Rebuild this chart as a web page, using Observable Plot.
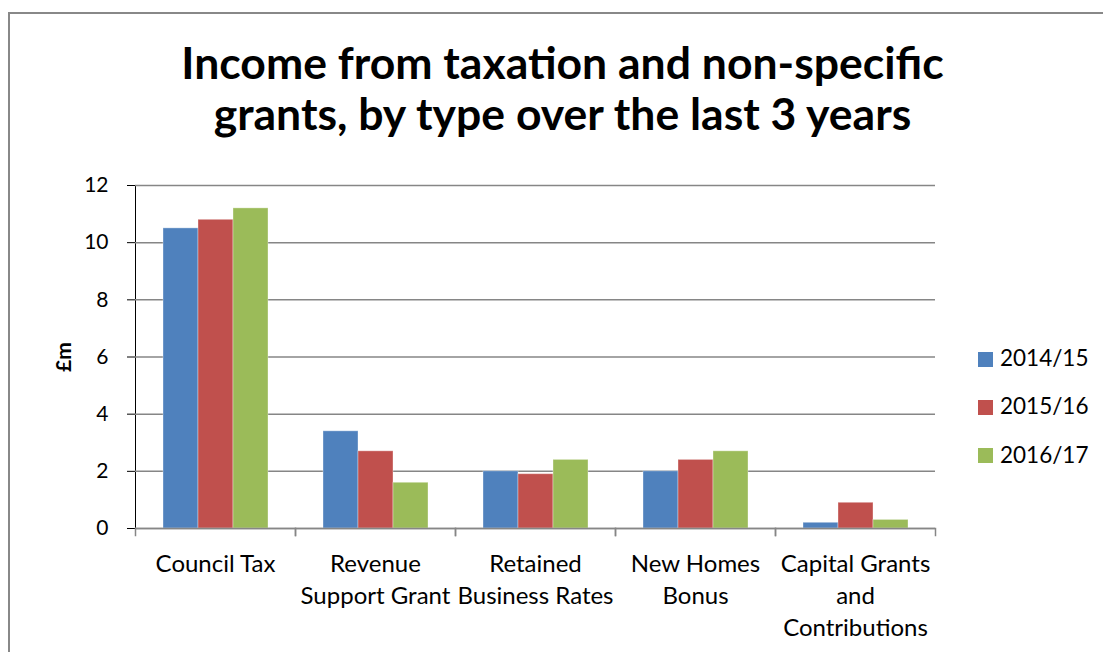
<!DOCTYPE html>
<html>
<head>
<meta charset="utf-8">
<script src="https://cdn.jsdelivr.net/npm/d3@7"></script>
<script src="https://cdn.jsdelivr.net/npm/@observablehq/plot@0.6"></script>
<style>
  html, body { margin: 0; padding: 0; background: #fff; }
  #wrap { position: relative; width: 1103px; height: 652px; overflow: hidden; font-family: Lato, "Open Sans", sans-serif; color: #000; }
  #border { position: absolute; left: 8px; top: 12px; width: 1200px; height: 800px; border-left: 2px solid #888; border-top: 2px solid #888; }
  #title { position: absolute; left: 0; width: 1125px; top: 36px; text-align: center; font-weight: 700; font-size: 44.5px; line-height: 51px; white-space: nowrap; }
  #ylabel { position: absolute; left: 62px; top: 357px; transform: translate(-50%, -50%) rotate(-90deg); font-weight: 700; font-size: 21px; }
  #chart { position: absolute; left: 0; top: 160px; }
  #legend { position: absolute; left: 978px; top: 344px; font-size: 22.5px; }
  .li { height: 48.3px; line-height: 27px; display: flex; align-items: flex-start; }
  .sw { width: 14.5px; height: 15px; margin-top: 7.5px; margin-right: 7.5px; }
</style>
</head>
<body>
<div id="wrap">
  <div id="border"></div>
  <div id="title">Income from taxation and non-specific<br>grants, by type over the last 3 years</div>
  <div id="ylabel">£m</div>
  <div id="chart"></div>
  <div id="legend"></div>
</div>
<script>
const categories = ["Council Tax", "Revenue Support Grant", "Retained Business Rates", "New Homes Bonus", "Capital Grants and Contributions"];
const categoryLabels = ["Council Tax", "Revenue\nSupport Grant", "Retained\nBusiness Rates", "New Homes\nBonus", "Capital Grants\nand\nContributions"];
const years = ["2014/15", "2015/16", "2016/17"];
const values2014 = [10.5, 3.4, 2.0, 2.0, 0.2];
const values2015 = [10.8, 2.7, 1.9, 2.4, 0.9];
const values2016 = [11.2, 1.6, 2.4, 2.7, 0.3];
const colors = ["#4F81BD", "#C0504D", "#9BBB59"];
const yTicks = [0, 2, 4, 6, 8, 10, 12];

const seriesValues = [values2014, values2015, values2016];
const table = [];
categories.forEach((c, i) => years.forEach((y, j) => table.push({category: c, year: y, value: seriesValues[j][i]})));

const gray = "#868686";
const plotHeight = 343;

const chart = Plot.plot({
  width: 1103,
  height: 492,
  marginTop: 25,
  marginBottom: 124,
  marginLeft: 134,
  marginRight: 167,
  style: {fontFamily: "Lato, 'Open Sans', sans-serif", fontSize: "21px", color: "#000", background: "transparent", overflow: "visible"},
  fx: {domain: categories, padding: 0, label: null},
  x: {domain: years, paddingInner: 0, paddingOuter: 0.75, axis: null},
  y: {domain: [0, 12], ticks: yTicks, tickSize: 8, tickPadding: 19, label: null, line: true},
  color: {domain: years, range: colors},
  marks: [
    Plot.gridY(yTicks, {stroke: gray, strokeOpacity: 1, strokeWidth: 1.5}),
    Plot.barY(table, {fx: "category", x: "year", y: "value", fill: "year", stroke: "#fff", strokeOpacity: 0.35, strokeWidth: 1}),
    Plot.ruleY([0], {stroke: gray, strokeWidth: 1.5}),
    Plot.frame({anchor: "left", insetTop: plotHeight, insetBottom: -7, stroke: gray, strokeWidth: 1.5}),
    Plot.frame({anchor: "right", insetTop: plotHeight, insetBottom: -7, stroke: gray, strokeWidth: 1.5}),
    Plot.axisFx({anchor: "bottom", tickSize: 0, tickPadding: 20, lineHeight: 1.35, fontSize: 24, label: null,
      tickFormat: d => categoryLabels[categories.indexOf(d)], fill: "#000"})
  ]
});
document.getElementById("chart").appendChild(chart);
chart.querySelectorAll("g[aria-label='y-axis tick'], g[aria-label='frame']").forEach(g => g.setAttribute("stroke", gray));

const legend = document.getElementById("legend");
years.forEach((y, j) => {
  const row = document.createElement("div");
  row.className = "li";
  row.innerHTML = `<div class="sw" style="background:${colors[j]}"></div><div>${y}</div>`;
  legend.appendChild(row);
});
</script>
</body>
</html>
